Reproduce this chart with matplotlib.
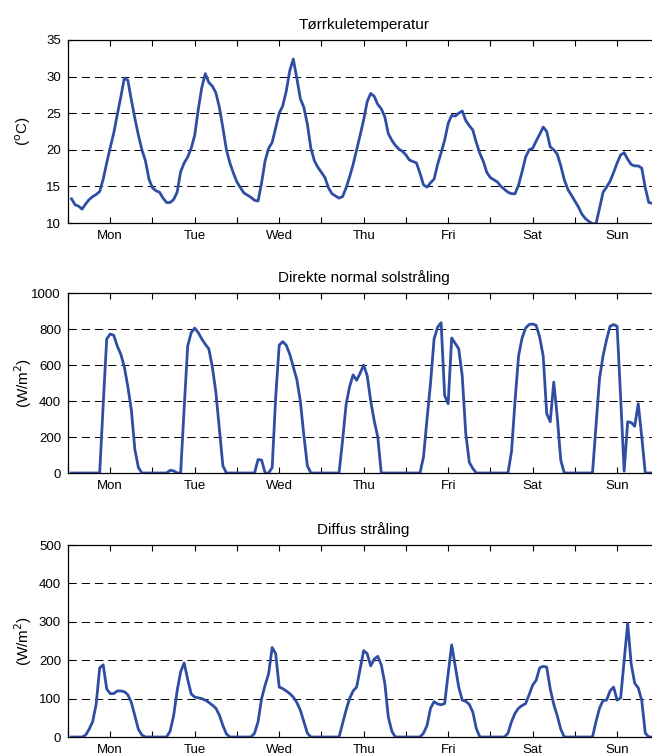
import numpy as np
import matplotlib
matplotlib.use('Agg')
import matplotlib.pyplot as plt

plt.rcParams['font.family'] = ['Liberation Sans', 'DejaVu Sans']
plt.rcParams['lines.scale_dashes'] = False

# timer (1..166) – en uke med timesverdier
timer = np.arange(1, 167)

dager = ['Mon', 'Tue', 'Wed', 'Thu', 'Fri', 'Sat', 'Sun']

temperatur = [
    13.3, 12.5, 12.3, 11.9, 12.6, 13.2, 13.6, 13.9, 14.3, 16.0, 18.2, 20.3,
    22.3, 24.8, 27.2, 29.8, 29.5, 26.8, 24.3, 22.0, 20.0, 18.5, 16.0, 14.8,
    14.4, 14.2, 13.4, 12.8, 12.8, 13.2, 14.2, 17.0, 18.2, 19.0, 20.2, 22.0,
    25.5, 28.5, 30.4, 29.2, 28.7, 27.8, 25.8, 23.0, 20.0, 18.2, 16.8, 15.6,
    14.8, 14.1, 13.8, 13.5, 13.1, 13.0, 15.5, 18.5, 20.2, 21.0, 23.0, 25.0,
    26.0, 28.0, 30.8, 32.4, 29.8, 27.0, 25.8, 23.5, 20.2, 18.5, 17.6, 16.9,
    16.2, 14.8, 14.0, 13.7, 13.4, 13.6, 14.8, 16.3, 18.0, 20.0, 22.0, 24.1,
    26.6, 27.7, 27.3, 26.2, 25.6, 24.5, 22.2, 21.3, 20.6, 20.1, 19.8, 19.3,
    18.6, 18.4, 18.2, 16.8, 15.2, 14.9, 15.5, 16.0, 18.0, 19.6, 21.3, 23.6,
    24.7, 24.6, 25.0, 25.3, 24.0, 23.3, 22.7, 21.0, 19.5, 18.4, 16.9, 16.2,
    15.9, 15.6, 15.0, 14.6, 14.2, 14.0, 14.0, 15.2, 17.0, 19.0, 20.0, 20.2,
    21.2, 22.1, 23.1, 22.5, 20.4, 20.0, 19.4, 17.8, 15.9, 14.6, 13.8, 13.0,
    12.2, 11.2, 10.6, 10.2, 9.9, 9.9, 12.0, 14.2, 14.9, 15.7, 16.9, 18.2,
    19.3, 19.6, 18.7, 18.0, 17.8, 17.8, 17.5, 14.8, 12.8, 12.7,
]

direkte = [
    0, 0, 0, 0, 0, 0, 0, 0, 0, 380, 745, 772,
    765, 705, 660, 590, 480, 350, 130, 30, 0, 0, 0, 0,
    0, 0, 0, 0, 15, 12, 0, 0, 360, 705, 780, 805,
    780, 745, 715, 690, 590, 450, 245, 40, 0, 0, 0, 0,
    0, 0, 0, 0, 0, 75, 72, 0, 0, 30, 420, 710,
    730, 710, 660, 590, 520, 400, 210, 40, 0, 0, 0, 0,
    0, 0, 0, 0, 0, 180, 380, 480, 545, 515, 555, 600,
    540, 400, 290, 200, 0, 0, 0, 0, 0, 0, 0, 0,
    0, 0, 0, 0, 90, 300, 500, 745, 810, 835, 430, 385,
    750, 720, 690, 540, 220, 60, 25, 0, 0, 0, 0, 0,
    0, 0, 0, 0, 0, 120, 400, 650, 750, 805, 825, 828,
    820, 755, 650, 330, 285, 505, 310, 70, 0, 0, 0, 0,
    0, 0, 0, 0, 0, 260, 525, 650, 740, 815, 825, 815,
    420, 10, 285, 280, 260, 385, 200, 0, 0, 0,
]

diffus = [
    0, 0, 0, 0, 5, 20, 40, 85, 180, 188, 125, 113,
    113, 120, 120, 118, 110, 90, 55, 20, 5, 0, 0, 0,
    0, 0, 0, 0, 15, 55, 120, 170, 193, 150, 112, 104,
    102, 100, 96, 90, 83, 75, 57, 30, 8, 0, 0, 0,
    0, 0, 0, 0, 10, 40, 100, 135, 165, 233, 217, 130,
    126, 120, 113, 104, 90, 70, 40, 10, 0, 0, 0, 0,
    0, 0, 0, 0, 0, 35, 70, 100, 120, 130, 178, 225,
    217, 185, 203, 210, 188, 140, 52, 15, 0, 0, 0, 0,
    0, 0, 0, 0, 10, 30, 75, 92, 86, 84, 87, 165,
    240, 185, 130, 96, 93, 85, 65, 22, 0, 0, 0, 0,
    0, 0, 0, 0, 10, 40, 62, 75, 82, 87, 110, 135,
    148, 180, 184, 182, 125, 85, 55, 20, 0, 0, 0, 0,
    0, 0, 0, 0, 0, 40, 75, 95, 96, 120, 130, 96,
    102, 200, 296, 190, 140, 128, 95, 10, 0, 0,
]

paneler = [
    ('Tørrkuletemperatur', temperatur, (10, 35), np.arange(10, 36, 5), r'($^{\mathrm{o}}$C)'),
    ('Direkte normal solstråling', direkte, (0, 1000), np.arange(0, 1001, 200), r'(W/m$^2$)'),
    ('Diffus stråling', diffus, (0, 500), np.arange(0, 501, 100), r'(W/m$^2$)'),
]

# plassering i piksler (topp, bunn) for hver akse
W, H = 652, 754
venstre = 68
bredde = 168 * 3.52
rader = [(40, 223), (293, 473), (545, 737)]

fig = plt.figure(figsize=(W / 100, H / 100), dpi=100)
farge = '#2f4da3'

for (tittel, verdier, ylim, yticks, ylab), (topp, bunn) in zip(paneler, rader):
    ax = fig.add_axes([venstre / W, (H - bunn) / H, bredde / W, (bunn - topp) / H])
    ax.plot(timer, verdier, color=farge, lw=2.0, solid_joinstyle='round')
    ax.set_xlim(0, 168)
    ax.set_ylim(*ylim)
    ax.set_yticks(yticks)
    ax.set_xticks(np.arange(12, 168, 24))
    ax.set_xticklabels(dager)
    ax.set_xticks(np.arange(0, 169, 24), minor=True)
    ax.tick_params(which='both', direction='in', top=True, right=True,
                   length=4, width=0.8, labelsize=9.5, pad=5)
    ax.grid(axis='y', color='k', linestyle=(0, (6, 3.5)), lw=0.7)
    for s in ax.spines.values():
        s.set_linewidth(0.9)
    ax.set_title(tittel, fontsize=11, pad=8)
    ax.set_ylabel(ylab, fontsize=11, va='center')
    ax.yaxis.set_label_coords(-0.075, 0.5)

fig.savefig('out.png', dpi=100)
